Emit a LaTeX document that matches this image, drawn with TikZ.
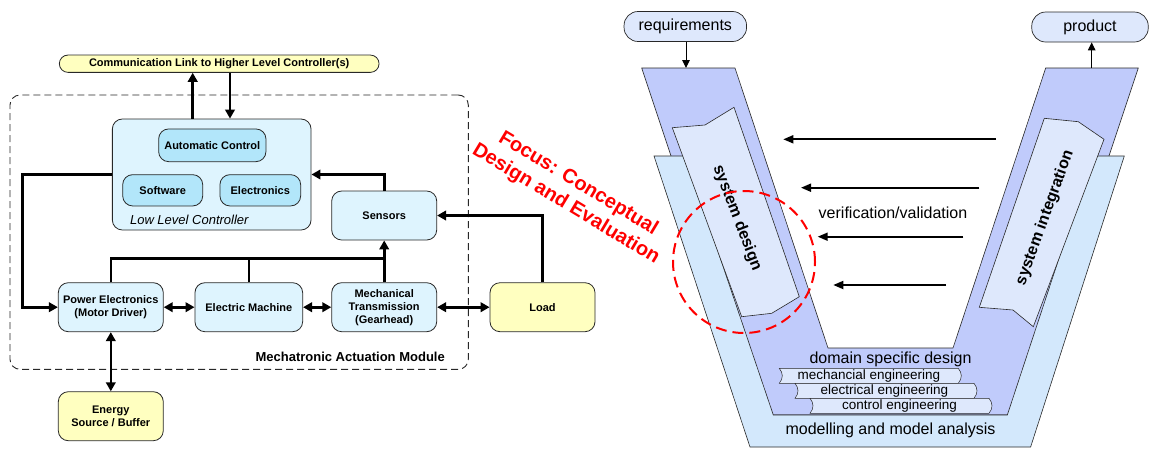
\documentclass[tikz,border=0pt]{standalone}
\usepackage{fontspec}
\setmainfont{Liberation Sans}
\setsansfont{Liberation Sans}
\usetikzlibrary{arrows.meta,calc}

\definecolor{paleyellow}{RGB}{255,255,192}
\definecolor{palecyan}{RGB}{222,244,254}
\definecolor{midcyan}{RGB}{178,230,250}
\definecolor{vdark}{RGB}{192,203,251}
\definecolor{vlight}{RGB}{211,232,252}
\definecolor{vpanel}{RGB}{222,232,252}
\definecolor{edgegray}{RGB}{40,40,40}
\definecolor{focusred}{RGB}{255,0,0}

\begin{document}
\begin{tikzpicture}[x=1pt,y=-1pt,
  box/.style={draw=edgegray, line width=0.8pt, rounded corners=10pt, align=center,
    inner sep=0pt, font=\fontsize{11}{13}\selectfont\bfseries},
  cyanbox/.style={box, fill=palecyan},
  innerbox/.style={box, fill=midcyan},
  yellowbox/.style={box, fill=paleyellow},
  modbox/.style={draw=edgegray, line width=0.9pt, dash pattern=on 7pt off 4pt, rounded corners=10pt, inner sep=0pt},
  conn/.style={line width=2.6pt, draw=black, -{Triangle[length=9pt,width=9.5pt]}},
  biconn/.style={line width=2.6pt, draw=black, {Triangle[length=9pt,width=9.5pt]}-{Triangle[length=9pt,width=9.5pt]}},
  plain/.style={line width=2.6pt, draw=black},
  vshape/.style={draw=edgegray, line width=0.6pt, line join=miter},
  vtext/.style={font=\fontsize{16}{18}\selectfont, inner sep=0pt},
  vpill/.style={draw=edgegray, line width=0.7pt, fill=vpanel, rounded corners=14pt, inner sep=0pt,
    font=\fontsize{16}{18}\selectfont},
  tabtext/.style={font=\fontsize{13.5}{15}\selectfont, inner sep=0pt},
  vvarrow/.style={line width=1.8pt, -{Triangle[length=10pt,width=8pt]}},
  thinarrow/.style={line width=1pt, -{Triangle[length=8pt,width=7.5pt]}},
  eng tab/.pic={
    \draw[fill=vpanel, draw=edgegray, line width=0.5pt]
      (0,0) -- (179,0) .. controls (183,5) and (183,10) .. (179,15)
      -- (0,15) .. controls (4,10) and (4,5) .. (0,0) -- cycle;
  }
]
\useasboundingbox (0,0) rectangle (1149,448);

% ---------------- mechatronic actuation module ----------------
\node[modbox, minimum width=458.3pt, minimum height=274.3pt] (module) at (239.15,232.15) {};
\node[anchor=east, inner sep=0pt, font=\fontsize{13}{15}\selectfont\bfseries] (modlabel) at (445,357.3) {Mechatronic Actuation Module};

\node[yellowbox, rounded corners=8.6pt, minimum width=319.7pt, minimum height=17.3pt] (comm) at (219.2,63.7)
  {Communication Link to Higher Level Controller(s)};

\node[cyanbox, minimum width=198.7pt, minimum height=111pt] (llc) at (211.7,174.5) {};
\node[innerbox, minimum width=107.3pt, minimum height=32.7pt] (ac) at (212.3,145.3) {Automatic Control};
\node[innerbox, minimum width=80pt, minimum height=31.3pt] (sw) at (162.7,190.3) {Software};
\node[innerbox, minimum width=80.7pt, minimum height=31.3pt] (el) at (260.3,190.3) {Electronics};
\node[inner sep=0pt, font=\fontsize{13}{15}\selectfont\itshape] (llclabel) at (189.3,220) {Low Level Controller};

\node[cyanbox, minimum width=105pt, minimum height=49pt] (sens) at (384.2,215.5) {Sensors};
\node[cyanbox, minimum width=105pt, minimum height=49pt] (pe) at (110.8,307.2) {Power Electronics\\(Motor Driver)};
\node[cyanbox, minimum width=107.7pt, minimum height=49pt] (em) at (248.8,307.2) {Electric Machine};
\node[cyanbox, minimum width=105pt, minimum height=49pt] (mt) at (384.2,307.2) {Mechanical\\Transmission\\(Gearhead)};
\node[yellowbox, minimum width=105pt, minimum height=49pt] (load) at (542.5,307.2) {Load};
\node[yellowbox, minimum width=105pt, minimum height=49pt] (energy) at (110.8,416.2) {Energy\\Source / Buffer};

% links to the higher level controller
\draw[conn] ([xshift=-19pt]llc.north) -- ([xshift=-19pt]llc.north |- comm.south);
\draw[conn] ([xshift=18.3pt]llc.north |- comm.south) -- ([xshift=18.3pt]llc.north);

% controller output to the power electronics
\coordinate (bendL) at (22.7,174.5);
\draw[conn] (llc.west) -- (bendL) |- (pe.west);

% sensor feedback to the controller
\draw[conn] (sens.north) |- (llc.east);
\draw[conn] (load.north) |- (sens.east);

% measurement bus
\coordinate (bus) at (0,258.3);
\draw[plain] (pe.north) -- (pe.north |- bus) -- (mt.north |- bus);
\draw[plain] (em.north) -- (em.north |- bus);
\draw[conn] (mt.north) -- (sens.south);

% power flow
\draw[biconn] (pe.east) -- (em.west);
\draw[biconn] (em.east) -- (mt.west);
\draw[biconn] (mt.east) -- (load.west);
\draw[biconn] (pe.south) -- (energy.north);

% ---------------- V model ----------------
\draw[vshape, fill=vdark] (641.7,68) -- (735,68) -- (828,348) -- (953,348) -- (1045.7,68) -- (1138.3,68)
  -- (1022.6,415) -- (757.4,415) -- cycle;
\draw[vshape, fill=vlight] (654,156) -- (685.7,156) -- (773.3,415) -- (1007.3,415) -- (1092.7,156) -- (1124.3,156)
  -- (1030.6,447) -- (750,447) -- cycle;

% design and integration panels
\draw[vshape, fill=vpanel] (672.3,127.7) -- (705,125) -- (734,107.3) -- (799.3,296.7) -- (771.7,313.3) -- (741.7,316.7) -- cycle;
\draw[vshape, fill=vpanel] (1044.3,118.3) -- (1078.3,121.7) -- (1104,139.3) -- (1033.3,326.7) -- (1013,310) -- (979.3,307.3) -- cycle;
\node[vtext, font=\fontsize{16}{18}\selectfont\bfseries, rotate=-69] (sysdes) at (737,218) {system design};
\node[vtext, font=\fontsize{16}{18}\selectfont\bfseries, rotate=70] (sysint) at (1045,218) {system integration};

% domain specific design tabs
\pic at (779.3,368.3) {eng tab};
\pic at (795,383.3) {eng tab};
\pic at (810,398.3) {eng tab};
\node[tabtext] (mech) at (868.8,375.8) {mechancial engineering};
\node[tabtext] (elec) at (884.5,390.8) {electrical engineering};
\node[tabtext] (ctrl) at (899.5,405.8) {control engineering};

\node[vtext] (domain) at (890.5,359.5) {domain specific design};
\node[vtext] (modelling) at (890.5,430.5) {modelling and model analysis};
\node[vtext] (vv) at (893,213) {verification/validation};

% requirements and product
\node[vpill, minimum width=122.5pt, minimum height=30pt] (req) at (685.3,26.5) {requirements};
\node[vpill, minimum width=116.5pt, minimum height=30pt] (prod) at (1090,27) {product};
\coordinate (vin) at (686,68);
\coordinate (vout) at (1091.7,68);
\draw[thinarrow] (req.south -| vin) -- (vin);
\draw[thinarrow] (vout) -- (prod.south -| vout);

% verification / validation arrows
\coordinate (va1) at (996,139.3);   \coordinate (vb1) at (783.3,139.3);
\coordinate (va2) at (979.3,187.7); \coordinate (vb2) at (801,187.7);
\coordinate (va3) at (963.3,236.7); \coordinate (vb3) at (817.7,236.7);
\coordinate (va4) at (946,285);     \coordinate (vb4) at (833.3,285);
\draw[vvarrow] (va1) -- (vb1);
\draw[vvarrow] (va2) -- (vb2);
\draw[vvarrow] (va3) -- (vb3);
\draw[vvarrow] (va4) -- (vb4);

% focus marker
\node[draw=focusred, line width=2pt, dash pattern=on 11pt off 6pt, circle, minimum size=142pt, inner sep=0pt] (ring) at (744,262) {};
\node[text=focusred, rotate=-31, align=center, inner sep=0pt, font=\fontsize{20}{24}\selectfont\bfseries] (focus) at (572,194)
  {Focus: Conceptual\\Design and Evaluation};
\end{tikzpicture}
\end{document}
